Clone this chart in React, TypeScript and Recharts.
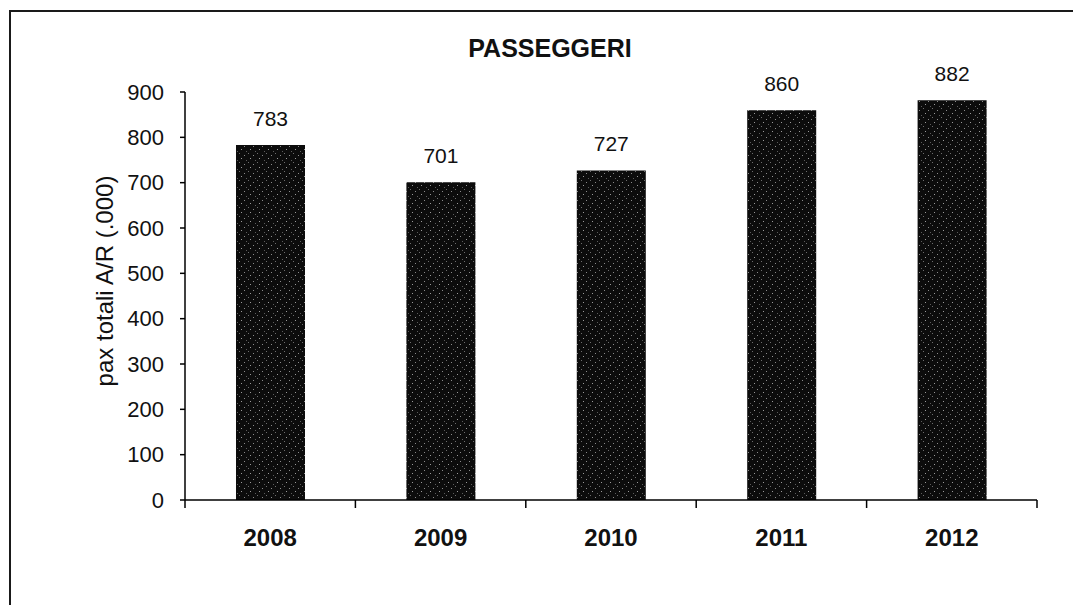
import { Bar, BarChart, LabelList, XAxis, YAxis } from "recharts";

const years = ["2008", "2009", "2010", "2011", "2012"];
const passengers = [783, 701, 727, 860, 882];
const yTicks = [0, 100, 200, 300, 400, 500, 600, 700, 800, 900];

const data = years.map((year, i) => ({ year, pax: passengers[i] }));

const W = 1073;
const H = 605;
const margin = { top: 92, right: 36, bottom: 45, left: 105 };
const Y_AXIS_W = 80;
const X_AXIS_H = 60;
const BAND = (W - margin.left - Y_AXIS_W - margin.right) / years.length;
const FONT = "'Liberation Sans', Arial, Helvetica, sans-serif";

function YearTick(props: any) {
  const { x, y, payload, index } = props;
  const left = x - BAND / 2;
  return (
    <g>
      <line x1={left} y1={y} x2={left} y2={y + 8} stroke="#000" strokeWidth={1.5} />
      {index === years.length - 1 && (
        <line x1={left + BAND} y1={y} x2={left + BAND} y2={y + 8} stroke="#000" strokeWidth={1.5} />
      )}
      <text x={x} y={y + 46} textAnchor="middle" fontSize={24} fontWeight="bold" fontFamily={FONT} fill="#111">
        {payload.value}
      </text>
    </g>
  );
}

export default function App() {
  return (
    <div style={{ position: "fixed", left: 0, top: 0, width: W, height: H, background: "#fff", overflow: "hidden" }}>
      <style>{`html, body { margin: 0; padding: 0; overflow: hidden; background: #fff; }`}</style>
      {/* frame (left + top edges only) and the speckled fill of the scanned bars */}
      <svg width={W} height={H} style={{ position: "absolute", left: 0, top: 0 }}>
        <defs>
          <pattern id="speckle" width="9" height="9" patternUnits="userSpaceOnUse">
            <rect width="9" height="9" fill="#0c0c0c" />
            <rect x="1" y="2" width="1" height="1" fill="#8a8a8a" />
            <rect x="5" y="0" width="1" height="1" fill="#6e6e6e" />
            <rect x="7" y="5" width="1" height="1" fill="#9a9a9a" />
            <rect x="3" y="7" width="1" height="1" fill="#5c5c5c" />
          </pattern>
        </defs>
        <path d={`M10,${H + 5} L10,11 L${W + 5},11`} fill="none" stroke="#1a1a1a" strokeWidth={2} />
      </svg>
      <div
        style={{
          position: "absolute",
          left: 0,
          top: 33,
          width: 1100,
          textAlign: "center",
          fontFamily: FONT,
          fontWeight: "bold",
          fontSize: 25,
          lineHeight: "30px",
          color: "#111",
        }}
      >
        PASSEGGERI
      </div>
      <div
        style={{
          position: "absolute",
          left: 105 - 150,
          top: 281 - 15,
          width: 300,
          height: 30,
          lineHeight: "30px",
          textAlign: "center",
          fontFamily: FONT,
          fontSize: 24,
          color: "#111",
          transform: "rotate(-90deg)",
          whiteSpace: "nowrap",
        }}
      >
        pax totali A/R (.000)
      </div>
      <div style={{ position: "absolute", left: 0, top: 0 }}>
        <BarChart width={W} height={H} data={data} margin={margin}>
          <XAxis
            dataKey="year"
            height={X_AXIS_H}
            axisLine={{ stroke: "#000", strokeWidth: 1.5 }}
            tickLine={false}
            tickSize={0}
            tickMargin={0}
            tick={<YearTick />}
            interval={0}
          />
          <YAxis
            width={Y_AXIS_W}
            domain={[0, 900]}
            ticks={yTicks}
            interval={0}
            axisLine={{ stroke: "#000", strokeWidth: 1.5 }}
            tickLine={{ stroke: "#000", strokeWidth: 1.5 }}
            tickSize={5}
            tickMargin={16}
            tick={{ fontSize: 22, fill: "#111", fontFamily: FONT }}
          />
          <Bar dataKey="pax" fill="url(#speckle)" barSize={69} isAnimationActive={false}>
            <LabelList
              dataKey="pax"
              position="top"
              offset={19}
              style={{ fontSize: 21, fill: "#111", fontFamily: FONT }}
            />
          </Bar>
        </BarChart>
      </div>
    </div>
  );
}
